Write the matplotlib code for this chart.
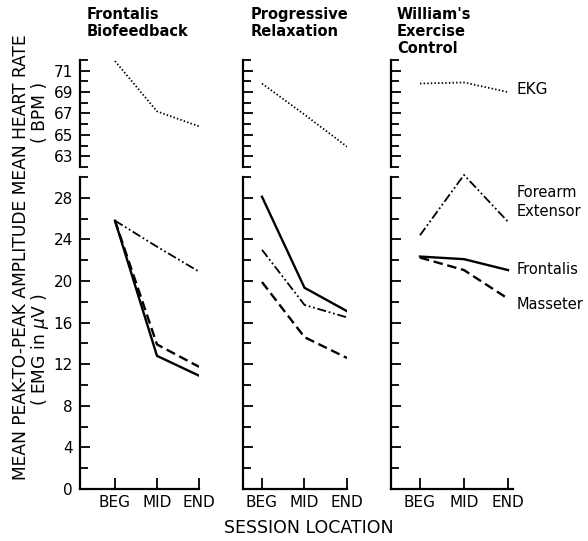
import matplotlib
matplotlib.use("Agg")
import matplotlib.pyplot as plt

# --- data -------------------------------------------------------------------
sessions = ["BEG", "MID", "END"]
x_pos = [1, 2, 3]
titles = ["Frontalis\nBiofeedback", "Progressive\nRelaxation",
          "William's\nExercise\nControl"]

hr_biofeedback = [71.9, 67.2, 65.8]
hr_relaxation = [69.8, 66.9, 63.9]
hr_control = [69.8, 69.9, 69.0]

fb_frontalis = [25.8, 12.8, 10.9]
fb_masseter = [25.8, 13.9, 11.75]
fb_forearm = [25.8, 23.3, 20.9]

pr_frontalis = [28.1, 19.35, 17.1]
pr_masseter = [19.9, 14.6, 12.6]
pr_forearm = [23.0, 17.7, 16.5]

wc_frontalis = [22.35, 22.1, 21.05]
wc_masseter = [22.25, 21.05, 18.3]
wc_forearm = [24.4, 30.2, 25.7]

hr_ticks = [63, 65, 67, 69, 71]
emg_ticks = [0, 4, 8, 12, 16, 20, 24, 28]

# --- layout (pixels) --------------------------------------------------------
W, H = 588, 541
INK = "black"


def rect(x0, x1, ytop, ybot):
    return [x0 / W, 1 - ybot / H, (x1 - x0) / W, (ybot - ytop) / H]


# left edge, right edge, xlim for each panel
panels = [(80, 199, (0.167, 3.0)),
          (243, 347, (0.553, 3.0)),
          (391, 513, (0.341, 3.114))]

plt.rcParams.update({"font.family": "DejaVu Sans"})
fig = plt.figure(figsize=(W / 100, H / 100), dpi=100)


def style(ax, show_bottom):
    for side in ("top", "right"):
        ax.spines[side].set_visible(False)
    ax.spines["left"].set_linewidth(1.6)
    ax.spines["left"].set_color(INK)
    if show_bottom:
        ax.spines["bottom"].set_linewidth(1.6)
        ax.spines["bottom"].set_color(INK)
    else:
        ax.spines["bottom"].set_visible(False)
    ax.tick_params(axis="y", which="both", direction="in", width=1.3,
                   labelsize=11, pad=5, colors=INK)
    ax.tick_params(axis="y", which="major", length=7)
    ax.tick_params(axis="y", which="minor", length=6)


hr_sets = [hr_biofeedback, hr_relaxation, hr_control]
emg_sets = [(fb_frontalis, fb_masseter, fb_forearm),
            (pr_frontalis, pr_masseter, pr_forearm),
            (wc_frontalis, wc_masseter, wc_forearm)]

for i, (x0, x1, xlim) in enumerate(panels):
    # heart rate
    ax_hr = fig.add_axes(rect(x0, x1, 60, 167))
    ax_hr.set_xlim(*xlim)
    ax_hr.set_ylim(62, 72)
    ax_hr.plot(x_pos, hr_sets[i], color=INK, lw=1.3, ls=(0, (0.8, 1.2)))
    ax_hr.set_yticks(hr_ticks)
    ax_hr.set_yticks(range(62, 73), minor=True)
    ax_hr.set_xticks([])
    style(ax_hr, False)
    if i > 0:
        ax_hr.set_yticklabels([])

    # EMG
    ax = fig.add_axes(rect(x0, x1, 177, 489))
    ax.set_xlim(*xlim)
    ax.set_ylim(0, 30)
    frontalis, masseter, forearm = emg_sets[i]
    ax.plot(x_pos, forearm, color=INK, lw=1.3,
            ls=(0, (5, 1.5, 1, 1.5, 1, 1.5)), clip_on=False)
    ax.plot(x_pos, masseter, color=INK, lw=1.7, ls=(0, (4, 2)))
    ax.plot(x_pos, frontalis, color=INK, lw=1.7)
    ax.set_yticks(emg_ticks)
    ax.set_yticks(range(0, 31, 2), minor=True)
    ax.set_xticks(x_pos)
    ax.set_xticklabels(sessions)
    style(ax, True)
    ax.tick_params(axis="x", direction="in", length=8, width=1.3,
                   labelsize=11, pad=4, colors=INK)
    if i > 0:
        ax.set_yticklabels([])

    fig.text((x0 + (7 if i == 0 else 8 if i == 1 else 6)) / W, 1 - 7 / H,
             titles[i], ha="left", va="top", fontsize=10.5,
             fontweight="bold", linespacing=1.15)

    if i == 2:
        ax_hr.text(3.2, 69.2, "EKG", ha="left", va="center", fontsize=11,
                   clip_on=False)
        ax.text(3.2, 28.5, "Forearm", ha="left", va="center", fontsize=10.5,
                clip_on=False)
        ax.text(3.2, 26.7, "Extensor", ha="left", va="center", fontsize=10.5,
                clip_on=False)
        ax.text(3.2, 21.15, "Frontalis", ha="left", va="center",
                fontsize=10.5, clip_on=False)
        ax.text(3.2, 17.7, "Masseter", ha="left", va="center",
                fontsize=10.5, clip_on=False)

# axis titles
fig.text(21 / W, 1 - 257 / H, "MEAN PEAK-TO-PEAK AMPLITUDE MEAN HEART RATE",
         rotation=90, ha="center", va="center", fontsize=12.3)
fig.text(40 / W, 1 - 112 / H, "( BPM )", rotation=90, ha="center",
         va="center", fontsize=12.3)
fig.text(40 / W, 1 - 350 / H, "( EMG in $\\mu$V )", rotation=90,
         ha="center", va="center", fontsize=12.3)
fig.text(309 / W, 1 - 528 / H, "SESSION LOCATION", ha="center",
         va="center", fontsize=12.5)

fig.savefig("out.png", dpi=100, facecolor="white")
